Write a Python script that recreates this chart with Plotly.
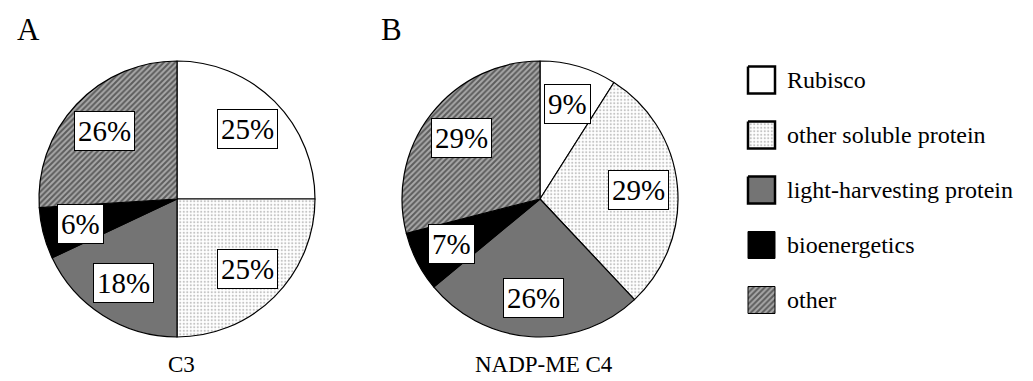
import math
import plotly.graph_objects as go

# ---- data ----
categories = ["Rubisco", "other soluble protein", "light-harvesting protein", "bioenergetics", "other"]
values_c3 = [25, 25, 18, 6, 26]
values_c4 = [9, 29, 26, 7, 29]
panel_letters = ["A", "B"]
panel_titles = ["C3", "NADP-ME C4"]

# ---- styles ----
W, H = 1033, 381
FONT = "Liberation Serif"
fill_colors = ["white", "white", "#747474", "black", "#a8a8a8"]
pat_shapes = ["", ".", "", "", "/"]
pat_fg = ["black", "#8a8a8a", "black", "black", "#111111"]
pat_size = [6, 3.5, 6, 6, 4]
pat_solid = [0.3, 0.3, 0.3, 0.3, 0.5]

pie_centers = [(177, 199), (540, 199)]
R = 138
label_r = 0.72

fig = go.Figure()

def px_x(x):
    return x / W

def px_y(y):
    return 1 - y / H

annotations = []
for i, vals in enumerate([values_c3, values_c4]):
    cx, cy = pie_centers[i]
    fig.add_trace(go.Pie(
        labels=categories, values=vals, sort=False, direction="clockwise", rotation=0,
        textinfo="none", hoverinfo="label+percent", showlegend=False,
        domain=dict(x=[px_x(cx - R), px_x(cx + R)], y=[px_y(cy + R), px_y(cy - R)]),
        marker=dict(colors=fill_colors, line=dict(color="black", width=1.2),
                    pattern=dict(shape=pat_shapes, fgcolor=pat_fg, size=pat_size,
                                 solidity=pat_solid, fillmode="overlay")),
    ))
    total = sum(vals)
    cum = 0
    for v in vals:
        mid = (cum + v / 2) / total * 2 * math.pi
        cum += v
        lx = cx + label_r * R * math.sin(mid)
        ly = cy - label_r * R * math.cos(mid)
        annotations.append(dict(
            x=px_x(lx), y=px_y(ly), xref="paper", yref="paper",
            text=f"{round(v / total * 100)}%", showarrow=False,
            font=dict(family=FONT, size=29, color="black"),
            bgcolor="white", bordercolor="black", borderwidth=1, borderpad=3,
            xanchor="center", yanchor="middle"))
    annotations.append(dict(
        x=px_x(cx - R - 11), y=px_y(30), xref="paper", yref="paper",
        text=panel_letters[i], showarrow=False, xanchor="center", yanchor="middle",
        font=dict(family=FONT, size=31, color="black")))
    annotations.append(dict(
        x=px_x(cx + 4), y=px_y(364), xref="paper", yref="paper",
        text=panel_titles[i], showarrow=False, xanchor="center", yanchor="middle",
        font=dict(family=FONT, size=23, color="black")))

# ---- custom legend (pixel-space hidden axis) ----
leg_x0, leg_y0, leg_dy, sw = 748, 80, 55, 27
for k, cat in enumerate(categories):
    yc = leg_y0 + k * leg_dy
    xs = [leg_x0, leg_x0 + sw, leg_x0 + sw, leg_x0, leg_x0]
    ys = [yc - sw / 2, yc - sw / 2, yc + sw / 2, yc + sw / 2, yc - sw / 2]
    fig.add_trace(go.Scatter(
        x=xs, y=ys, mode="lines", fill="toself", fillcolor=fill_colors[k],
        fillpattern=dict(shape=pat_shapes[k], fgcolor=pat_fg[k], bgcolor=fill_colors[k],
                         size=pat_size[k], solidity=pat_solid[k]),
        line=dict(color="black", width=2.5 if k < 3 else 1),
        showlegend=False, hoverinfo="skip"))
    annotations.append(dict(
        x=leg_x0 + sw + 10, y=yc, xref="x", yref="y", text=cat, showarrow=False,
        xanchor="left", yanchor="middle", font=dict(family=FONT, size=24, color="black")))

fig.update_layout(
    width=W, height=H, margin=dict(l=0, r=0, t=0, b=0),
    paper_bgcolor="white", plot_bgcolor="rgba(0,0,0,0)",
    xaxis=dict(range=[0, W], domain=[0, 1], visible=False, fixedrange=True),
    yaxis=dict(range=[H, 0], domain=[0, 1], visible=False, fixedrange=True),
    annotations=annotations, showlegend=False,
)

fig.write_html("out.html", config={"displayModeBar": False},
               post_script="document.body.style.margin='0';")
